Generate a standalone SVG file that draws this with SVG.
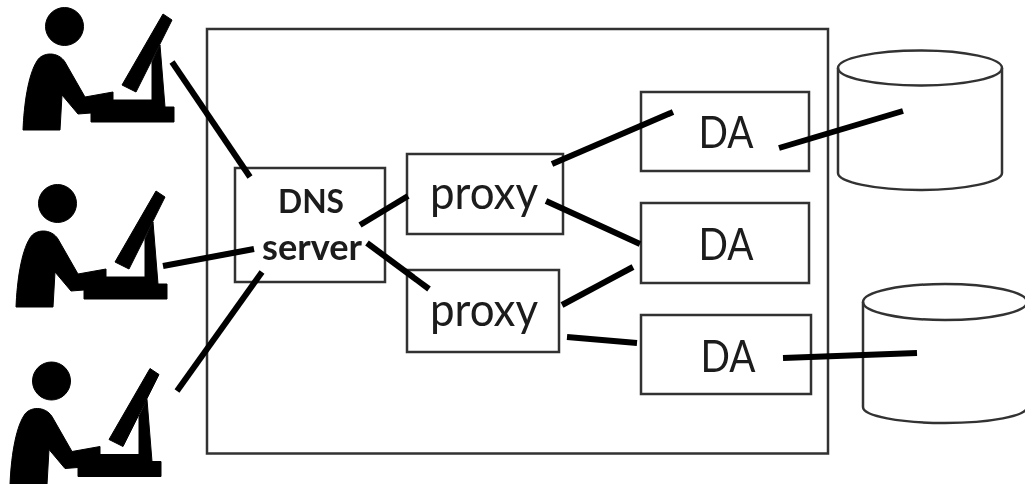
<svg xmlns="http://www.w3.org/2000/svg" width="1025" height="484" viewBox="0 0 1025 484">
<style>
.box{fill:none;stroke:#333;stroke-width:2.5}
.cyl{fill:none;stroke:#333;stroke-width:2.5}
.con{stroke:#000;stroke-width:6;fill:none}
.t{font-family:Lato,"Noto Sans",sans-serif;fill:#1a1a1a;text-anchor:middle}
.big{font-size:47px}
.da{font-size:44px}
.dns{font-size:33px;font-weight:700}
.srv{font-size:36px;font-weight:700}
.fig{stroke:#000;stroke-width:1;stroke-linejoin:round}
</style>
<defs>
<filter id="soft" filterUnits="userSpaceOnUse" x="0" y="0" width="1025" height="484"><feGaussianBlur stdDeviation="0.6"/></filter>
<g id="person" class="fig">
<circle cx="64.5" cy="26.5" r="19"/>
<path d="M23 130C24 105 28 75 37 61C42 52 58 51 65 62L85 97L113 92V100H152V62L160 45L165 107H174V122H91V113L78 114L62 95L60 130Z"/>
<path d="M163 14L172 20L136 92L122 85Z"/>
</g>
</defs>
<rect width="1025" height="484" fill="#fff"/>
<g filter="url(#soft)">
<g id="users">
<g id="user1"><use href="#person"/></g>
<g id="user2"><use href="#person" x="-7" y="177"/></g>
<g id="user3"><use href="#person" x="-13" y="354.500"/></g>
</g>
<g id="system"><rect class="box" x="207" y="29" width="621" height="424.500"/></g>
<g id="dns"><rect class="box" x="235" y="168" width="150" height="114"/>
<text class="t dns" x="311" y="213" textLength="66" lengthAdjust="spacingAndGlyphs">DNS</text><text class="t srv" x="312" y="260" textLength="100" lengthAdjust="spacingAndGlyphs">server</text></g>
<g id="proxy1"><rect class="box" x="407" y="154" width="156" height="80"/><text class="t big" x="484" y="209" textLength="108" lengthAdjust="spacingAndGlyphs">proxy</text></g>
<g id="proxy2"><rect class="box" x="407" y="270" width="152" height="82"/><text class="t big" x="484" y="326" textLength="108" lengthAdjust="spacingAndGlyphs">proxy</text></g>
<g id="da1"><rect class="box" x="641" y="92" width="168" height="79"/><text class="t da" x="726" y="148" textLength="55" lengthAdjust="spacingAndGlyphs">DA</text></g>
<g id="da2"><rect class="box" x="641" y="203" width="168" height="80"/><text class="t da" x="726" y="260" textLength="55" lengthAdjust="spacingAndGlyphs">DA</text></g>
<g id="da3"><rect class="box" x="641" y="315" width="170" height="79"/><text class="t da" x="728" y="372" textLength="55" lengthAdjust="spacingAndGlyphs">DA</text></g>
<g id="db1"><ellipse class="cyl" cx="920" cy="68" rx="82" ry="17.500"/><path class="cyl" d="M838 68V173C838 182 875 190 920 190S1002 182 1002 173V68"/></g>
<g id="db2"><ellipse class="cyl" cx="945" cy="302" rx="82" ry="18"/><path class="cyl" d="M863 302V407C863 416 900 423 945 423S1027 416 1027 407V302"/></g>
<g id="connectors">
<path class="con" d="M172 62L250 177"/>
<path class="con" d="M163 266L254 249"/>
<path class="con" d="M177 391L262 272"/>
<path class="con" d="M360 225L408 196"/>
<path class="con" d="M367 243L429 289"/>
<path class="con" d="M552 164L673 112"/>
<path class="con" d="M546 201L640 244"/>
<path class="con" d="M562 305L633 267"/>
<path class="con" d="M567 337L637 343"/>
<path class="con" d="M779 148L903 111"/>
<path class="con" d="M783 358L917 353"/>
</g>
</g>
</svg>
